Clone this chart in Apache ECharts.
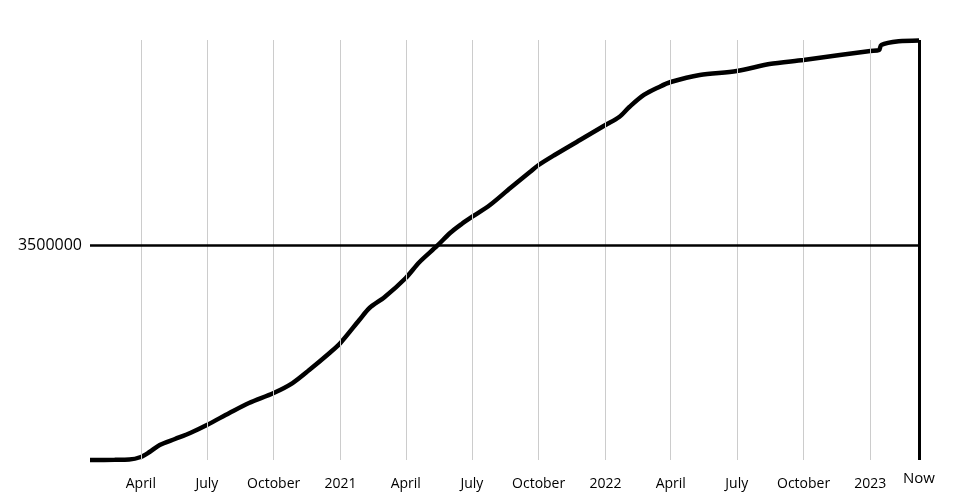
<!DOCTYPE html>
<html>
<head>
<meta charset="utf-8">
<script src="https://cdn.jsdelivr.net/npm/echarts@6/dist/echarts.min.js"></script>
<style>html,body{margin:0;padding:0;background:#fff}#c{width:960px;height:500px}</style>
</head>
<body>
<div id="c"></div>
<script>
var dates = ['2020-01-22','2020-02-25','2020-03-16','2020-04-01','2020-04-13','2020-04-27','2020-05-18','2020-06-08','2020-07-01','2020-08-01','2020-08-28','2020-10-01','2020-10-27','2020-11-19','2020-12-17',
  '2021-01-01','2021-01-27','2021-02-10','2021-03-03','2021-04-01','2021-04-20','2021-05-14','2021-06-01','2021-06-17','2021-07-01','2021-07-26','2021-08-23','2021-09-19','2021-10-01','2021-10-23','2021-11-27',
  '2022-01-01','2022-01-20','2022-02-03','2022-02-23','2022-03-16','2022-04-01','2022-05-11','2022-07-01','2022-08-15','2022-10-01','2022-11-20',
  '2023-01-01','2023-01-13','2023-01-16','2023-02-09','2023-03-09'];
var deaths = [0,2700,7000,49000,130000,244000,342000,440000,570000,765000,928000,1091000,1253000,1465000,1742000,
  1905000,2279000,2474000,2653000,2963000,3223000,3484000,3695000,3842000,3956000,4151000,4428000,4688000,4802000,4965000,5209000,
  5453000,5584000,5746000,5942000,6072000,6153000,6267000,6332000,6446000,6512000,6593000,
  6658000,6674000,6756000,6815000,6830000];
var tickDates = ['2020-04-01','2020-07-01','2020-10-01','2021-01-01','2021-04-01','2021-07-01','2021-10-01','2022-01-01','2022-04-01','2022-07-01','2022-10-01','2023-01-01'];
var tickLabels = ['April','July','October','2021','April','July','October','2022','April','July','October','2023'];
var startDate = '2020-01-22';
var nowDate = '2023-03-09';
var nowLabel = 'Now';
var refValue = 3500000;
var yMax = 6837000;

var seriesData = dates.map(function(d, i){ return [d, deaths[i]]; });
var gridLines = tickDates.map(function(d, i){ return {xAxis: d, label: {formatter: tickLabels[i]}}; });

var chart = echarts.init(document.getElementById('c'), null, {renderer: 'canvas'});
chart.setOption({
  animation: false,
  textStyle: {fontFamily: 'Open Sans'},
  grid: {left: 90, right: 41, top: 40, bottom: 40},
  xAxis: {
    type: 'time', min: startDate, max: nowDate,
    axisLine: {show: false}, axisTick: {show: false}, axisLabel: {show: false}, splitLine: {show: false}
  },
  yAxis: {
    type: 'value', min: 0, max: yMax, interval: refValue,
    axisLine: {show: false}, axisTick: {show: false}, splitLine: {show: false},
    axisLabel: {color: '#000', fontSize: 16, fontFamily: 'Open Sans', margin: 8,
      formatter: function(v){ return v === refValue ? String(refValue) : ''; }}
  },
  series: [
    {
      type: 'line', data: [], z: 1, silent: true,
      markLine: {
        silent: true, symbol: 'none', animation: false,
        lineStyle: {color: '#cccccc', width: 1, type: 'solid'},
        label: {show: true, position: 'start', distance: 17, color: '#000', fontSize: 14, fontFamily: 'Open Sans'},
        data: gridLines
      }
    },
    {
      type: 'line', data: [], z: 2, silent: true,
      markLine: {
        silent: true, symbol: 'none', animation: false,
        data: [
          {yAxis: refValue, lineStyle: {color: '#000', width: 2.5, type: 'solid'}, label: {show: false}},
          {xAxis: nowDate, lineStyle: {color: '#000', width: 3, type: 'solid'},
           label: {show: true, position: 'start', distance: 11, formatter: nowLabel, color: '#000', fontSize: 15, fontFamily: 'Open Sans'}}
        ]
      }
    },
    {
      type: 'line', data: seriesData, z: 3, smooth: 0.3, showSymbol: false, clip: false,
      lineStyle: {color: '#000', width: 4.5}
    }
  ]
});
</script>
</body>
</html>
